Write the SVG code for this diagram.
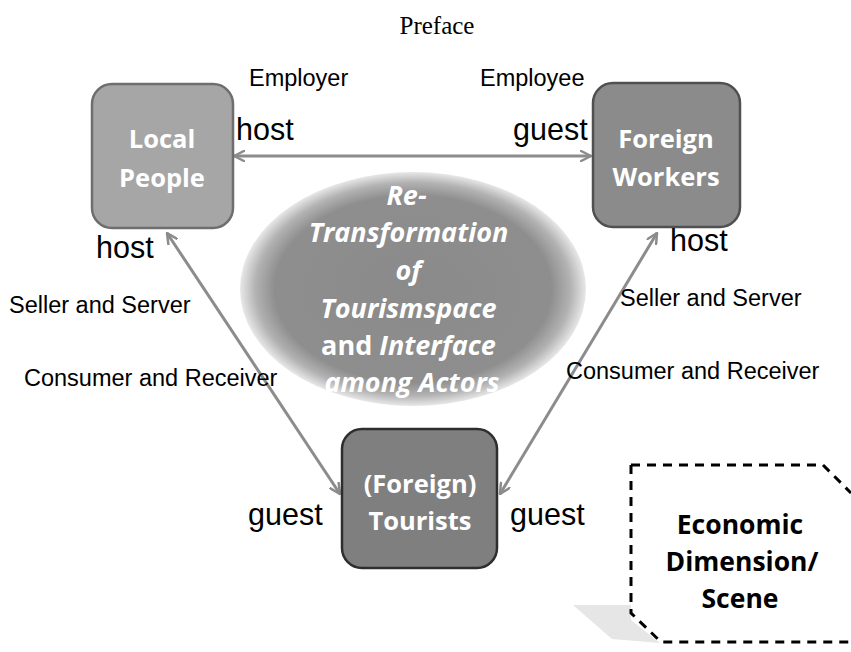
<svg xmlns="http://www.w3.org/2000/svg" width="851" height="652" viewBox="0 0 851 652">
  <style>
    .lbl { font-family: "Liberation Sans", Arial, sans-serif; fill: #000; }
    .small { font-size: 23.5px; }
    .big { font-size: 30.5px; }
    .box-txt { font-family: "Open Sans", "DejaVu Sans", sans-serif; font-weight: bold; font-size: 25.5px; fill: #fff; text-anchor: middle; }
    .ell-txt { font-family: "Open Sans", "DejaVu Sans", sans-serif; font-weight: bold; font-size: 27px; fill: #fff; text-anchor: middle; }
    .conn { stroke: #8c8c8c; stroke-width: 3; fill: none; marker-start: url(#head); marker-end: url(#head); }
  </style>
  <defs>
    <radialGradient id="ellFill" cx="0.5" cy="0.5" r="0.5">
      <stop offset="0" stop-color="#8a8a8a"/>
      <stop offset="0.8" stop-color="#8e8e8e"/>
      <stop offset="0.91" stop-color="#b2b2b2"/>
      <stop offset="1" stop-color="#e8e8e8"/>
    </radialGradient>
    <marker id="head" viewBox="0 0 12 12" refX="11" refY="6" markerWidth="12" markerHeight="12" markerUnits="userSpaceOnUse" orient="auto-start-reverse">
      <path d="M1,1 L11,6 L1,11" fill="none" stroke="#8c8c8c" stroke-width="2.5" stroke-linecap="round" stroke-linejoin="round"/>
    </marker>
  </defs>

  <rect width="851" height="652" fill="#fff"/>

  <text x="437" y="34" font-family="Liberation Serif, serif" font-size="25" text-anchor="middle">Preface</text>

  <!-- central theme -->
  <g id="theme">
    <ellipse cx="413" cy="289" rx="173" ry="117" fill="url(#ellFill)"/>
    <text class="ell-txt">
      <tspan x="410" y="205" font-style="italic">Re-</tspan>
      <tspan x="412" y="242" font-style="italic">Transformation</tspan>
      <tspan x="412" y="280" font-style="italic">of</tspan>
      <tspan x="412" y="318" font-style="italic">Tourismspace</tspan>
      <tspan x="412" y="355">and <tspan font-style="italic">Interface</tspan></tspan>
      <tspan x="412" y="392" font-style="italic">among Actors</tspan>
    </text>
  </g>

  <!-- connectors -->
  <g id="connectors">
    <line class="conn" x1="234" y1="156" x2="591" y2="156"/>
    <line class="conn" x1="167" y1="233" x2="340" y2="494"/>
    <line class="conn" x1="657" y1="233" x2="500" y2="494"/>
  </g>

  <g id="local-people">
    <rect x="92" y="84" width="141" height="144" rx="20" fill="#a6a6a6" stroke="#6e6e6e" stroke-width="2.5"/>
    <text class="box-txt"><tspan x="162" y="148">Local</tspan><tspan x="162" y="187">People</tspan></text>
  </g>

  <g id="foreign-workers">
    <rect x="593" y="83" width="147" height="144" rx="20" fill="#8b8b8b" stroke="#505050" stroke-width="2.5"/>
    <text class="box-txt"><tspan x="666" y="148">Foreign</tspan><tspan x="666" y="186">Workers</tspan></text>
  </g>

  <g id="tourists">
    <rect x="342" y="429" width="155" height="139" rx="20" fill="#7f7f7f" stroke="#2e2e2e" stroke-width="2.5"/>
    <text class="box-txt"><tspan x="420" y="493">(Foreign)</tspan><tspan x="420" y="530">Tourists</tspan></text>
  </g>

  <!-- scene callout -->
  <g id="scene">
    <polygon points="573,605 631,605 631,620 660,643 612,639" fill="#e6e6e6"/>
    <polyline points="631,465 631,613 661,642 851,642" fill="none" stroke="#000" stroke-width="3" stroke-dasharray="9,7"/>
    <polyline points="631,465 823,465 851,493" fill="none" stroke="#000" stroke-width="3" stroke-dasharray="9,7"/>
    <text font-family="Open Sans, DejaVu Sans, sans-serif" font-weight="bold" font-size="26.5" text-anchor="middle" fill="#000">
      <tspan x="740" y="534">Economic</tspan><tspan x="742" y="571">Dimension/</tspan><tspan x="740" y="608">Scene</tspan>
    </text>
  </g>

  <!-- relationship labels -->
  <g id="labels">
    <text class="lbl small" x="249" y="86">Employer</text>
    <text class="lbl small" x="480" y="86">Employee</text>
    <text class="lbl big" x="236" y="140">host</text>
    <text class="lbl big" x="513" y="140">guest</text>
    <text class="lbl big" x="96" y="258">host</text>
    <text class="lbl big" x="670" y="251">host</text>
    <text class="lbl small" x="9" y="313">Seller and Server</text>
    <text class="lbl small" x="24" y="386">Consumer and Receiver</text>
    <text class="lbl small" x="620" y="306">Seller and Server</text>
    <text class="lbl small" x="566" y="379">Consumer and Receiver</text>
    <text class="lbl big" x="248" y="525">guest</text>
    <text class="lbl big" x="510" y="525">guest</text>
  </g>
</svg>
